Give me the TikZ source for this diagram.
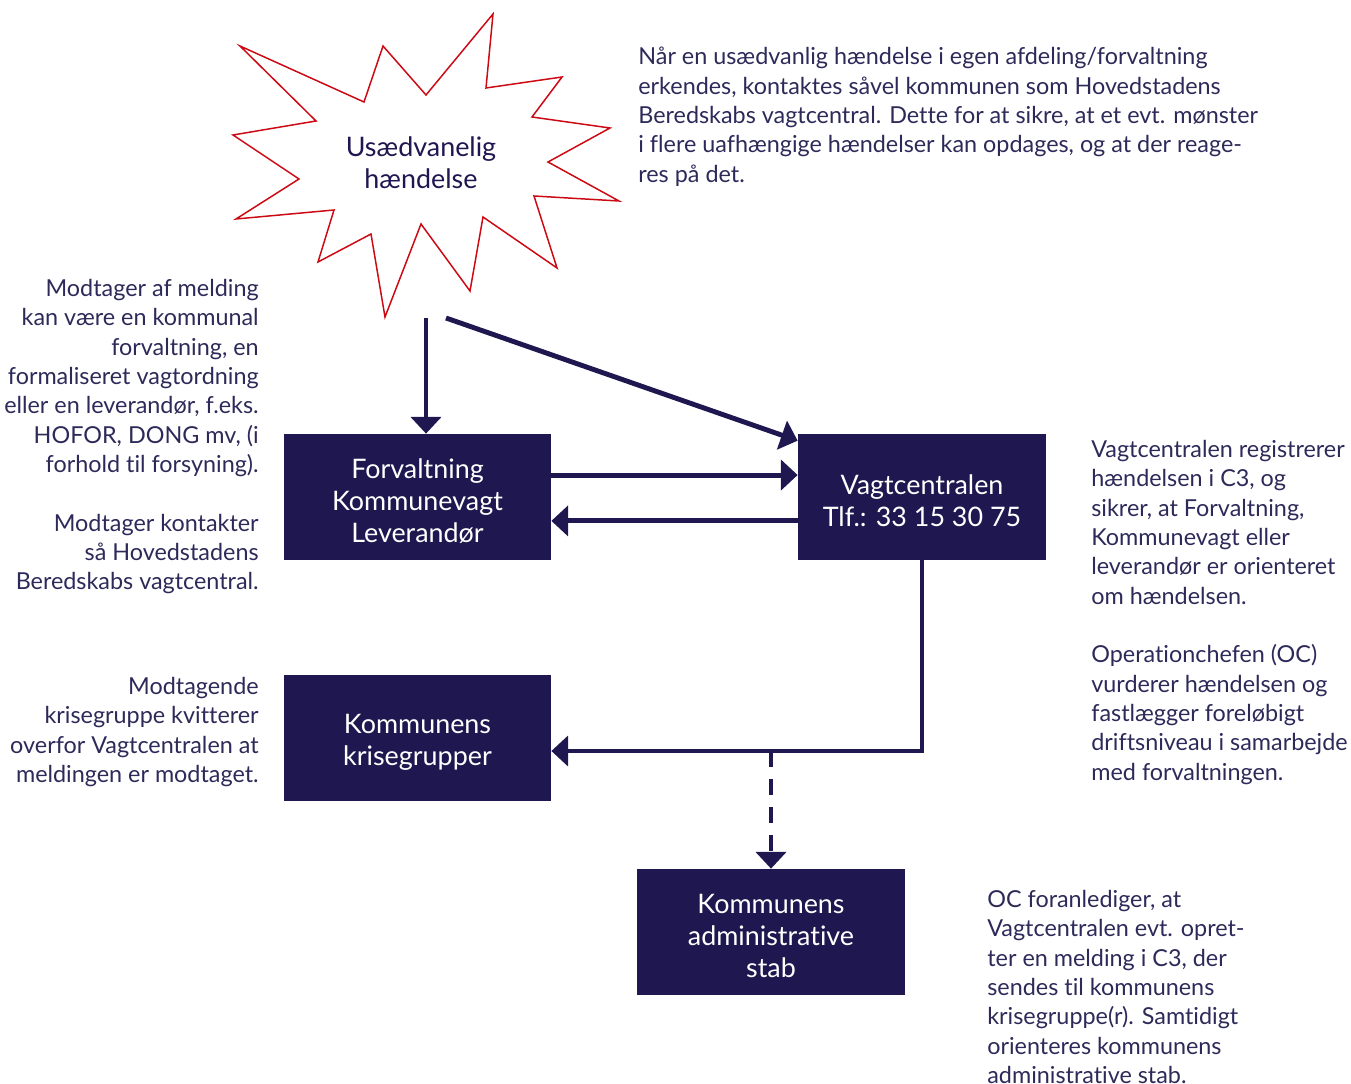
\documentclass[tikz,border=0pt]{standalone}
\usepackage{fontspec}
\setmainfont{Lato}[Ligatures=NoCommon]
\usetikzlibrary{arrows.meta,positioning}
\definecolor{navy}{RGB}{31,23,80}
\definecolor{notecol}{RGB}{45,42,90}
\definecolor{starred}{RGB}{204,10,20}
\tikzset{
  box/.style={fill=navy, minimum width=267*0.02cm, minimum height=126*0.02cm,
    inner sep=0pt},
  boxtext/.style={text=white, align=center, yshift=-2.3pt,
    font=\fontsize{15.3}{18.1}\selectfont},
  note/.style={text=notecol, inner sep=0pt, font=\fontsize{13.3}{16.7}\selectfont},
  arr/.style={draw=navy, line width=2.8pt, -{Triangle[width=17pt,length=9.5pt]}},
}
\begin{document}
\begin{tikzpicture}[x=0.02cm,y=-0.02cm]
  \useasboundingbox (0,0) rectangle (1351,1084);
  % star
  \draw[starred, line width=0.85pt, line join=miter]
    (240,46) -- (364,102) -- (383,46) -- (426,95) -- (493,14) -- (486,88)
    -- (562,77) -- (532,117) -- (610,128) -- (548,162) -- (619,201)
    -- (534,196) -- (557,268) -- (483,217) -- (470,291) -- (421,224)
    -- (385,317) -- (371,234) -- (318,262) -- (334,210) -- (236,219)
    -- (299,179) -- (233,135) -- (316,121) -- cycle;
  \node[text=navy, align=center, font=\fontsize{15.3}{18.1}\selectfont] (event) at (421,163)
    {Usædvanelig\\hændelse};
  \coordinate (s1) at (426,318);
  \coordinate (s2) at (446,318);
  % boxes
  \node[box, label={[boxtext]center:{Forvaltning\\Kommunevagt\\Leverandør}}] (forv) at (417.5,497) {};
  \node[box, minimum width=248*0.02cm,
        label={[boxtext]center:{Vagtcentralen\\Tlf.: 33 15 30 75}}] (vagt) at (922,497) {};
  \node[box, label={[boxtext]center:{Kommunens\\krisegrupper}}] (krise) at (417.5,738) {};
  \node[box, minimum width=268*0.02cm,
        label={[boxtext]center:{Kommunens\\administrative\\stab}}] (stab) at (771,932) {};
  % arrows
  \draw[arr] (s1) -- (s1 |- forv.north);
  \draw[arr] (s2) -- ([yshift=-4pt]vagt.north west);
  \draw[arr] ([yshift=12.5pt]forv.east) -- ([yshift=12.5pt]vagt.west);
  \draw[arr] ([yshift=-13.6pt]vagt.west) -- ([yshift=-13.6pt]forv.east);
  \coordinate (turn) at ([yshift=-7.4pt]krise.east);
  \draw[arr] (vagt.south) |- (turn);
  \draw[arr, dash pattern=on 9pt off 7pt] (stab.north |- turn) -- (stab.north);
  % notes
  \node[note, align=left, anchor=north west] (n1) at (638,47)
    {Når en usædvanlig hændelse i egen afdeling/forvaltning\\
     erkendes, kontaktes såvel kommunen som Hovedstadens\\
     Beredskabs vagtcentral. Dette for at sikre, at et evt. mønster\\
     i flere uafhængige hændelser kan opdages, og at der reage-\\
     res på det.};
  \node[note, align=right, anchor=north east] (n2) at (259,279)
    {Modtager af melding\\kan være en kommunal\\forvaltning, en\\
     formaliseret vagtordning\\eller en leverandør, f.eks.\\HOFOR, DONG mv, (i\\
     forhold til forsyning).\\[16.7pt]
     Modtager kontakter\\så Hovedstadens\\Beredskabs vagtcentral.};
  \node[note, align=right, anchor=north east] (n3) at (259,677)
    {Modtagende\\krisegruppe kvitterer\\overfor Vagtcentralen at\\meldingen er modtaget.};
  \node[note, align=left, anchor=north west] (n4) at (1091,440)
    {Vagtcentralen registrerer\\hændelsen i C3, og\\sikrer, at Forvaltning,\\
     Kommunevagt eller\\leverandør er orienteret\\om hændelsen.\\[16.7pt]
     Operationchefen (OC)\\vurderer hændelsen og\\fastlægger foreløbigt\\
     driftsniveau i samarbejde\\med forvaltningen.};
  \node[note, align=left, anchor=north west] (n5) at (987,890)
    {OC foranlediger, at\\Vagtcentralen evt. opret-\\ter en melding i C3, der\\
     sendes til kommunens\\krisegruppe(r). Samtidigt\\orienteres kommunens\\
     administrative stab.};
\end{tikzpicture}
\end{document}
